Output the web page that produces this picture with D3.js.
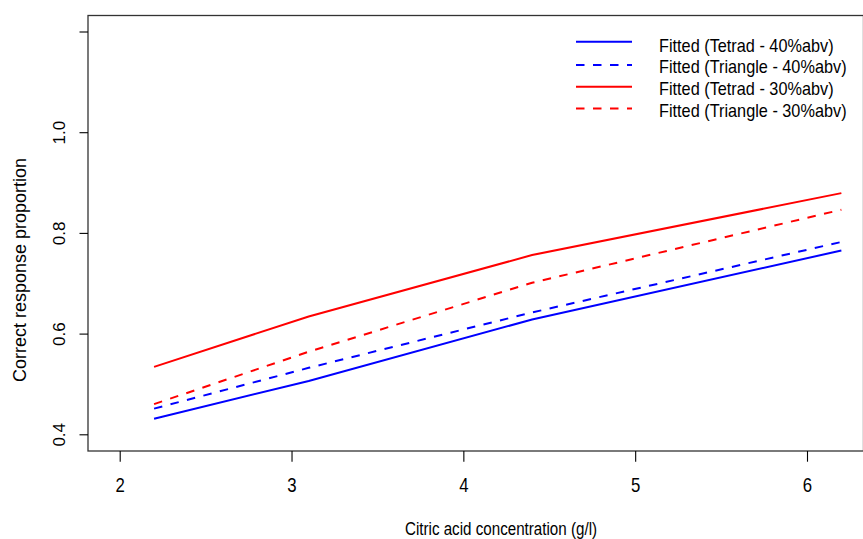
<html>
<head>
  <script src="https://cdnjs.cloudflare.com/ajax/libs/d3/7.8.5/d3.min.js"></script>
  <style>
    body { margin: 0; background: #fff; }
    text { font-family: "Liberation Sans", Arial, sans-serif; fill: #000; }
  </style>
</head>
<body>
  <svg id="chart" width="863" height="539"></svg>
  <script>
    // citric acid levels (g/l) and fitted proportions
    const conc = [2.2, 3.1, 4.4, 6.2];
    const tetrad40 = [0.431, 0.506, 0.628, 0.765];
    const triangle40 = [0.451, 0.532, 0.642, 0.782];
    const tetrad30 = [0.534, 0.634, 0.756, 0.879];
    const triangle30 = [0.460, 0.564, 0.701, 0.846];

    const xTicks = [2, 3, 4, 5, 6];
    const yTicks = [0.4, 0.6, 0.8, 1.0, 1.2];
    const yTickLabels = ["0.4", "0.6", "0.8", "1.0", ""];

    const legendLabels = ["Fitted (Tetrad - 40%abv)", "Fitted (Triangle - 40%abv)",
      "Fitted (Tetrad - 30%abv)", "Fitted (Triangle - 30%abv)"];

    const series = [
      { values: tetrad40, color: "#0000ff", dash: null },
      { values: triangle40, color: "#0000ff", dash: "8.5,8.5" },
      { values: tetrad30, color: "#ff0000", dash: null },
      { values: triangle30, color: "#ff0000", dash: "8.5,8.5" }
    ];

    const svg = d3.select("#chart");
    const box = { left: 88, top: 15.5, right: 863.5, bottom: 451 };

    const x = d3.scaleLinear().domain([2, 6]).range([119.7, 807]);
    const y = d3.scaleLinear().domain([0.4, 1.2]).range([434.3, 31.5]);

    // plot box
    svg.append("rect")
      .attr("x", box.left).attr("y", box.top)
      .attr("width", box.right - box.left).attr("height", box.bottom - box.top)
      .attr("fill", "none").attr("stroke", "#333").attr("stroke-width", 1.3);

    // x axis
    const gx = svg.append("g")
      .attr("transform", "translate(0," + box.bottom + ")")
      .call(d3.axisBottom(x).tickValues(xTicks).tickSize(10.7).tickFormat(d3.format("d")));
    gx.select(".domain").remove();
    gx.selectAll("line").attr("stroke", "#000").attr("stroke-width", 1.1);
    gx.selectAll("text")
      .attr("y", 0).attr("dy", 0)
      .attr("transform", "translate(0,40.7) scale(0.84,1)")
      .style("font-size", "20px");

    // y axis
    const gy = svg.append("g")
      .attr("transform", "translate(" + box.left + ",0)")
      .call(d3.axisLeft(y).tickValues(yTicks).tickSize(8.5).tickFormat((d, i) => yTickLabels[i]));
    gy.select(".domain").remove();
    gy.selectAll("line").attr("stroke", "#000").attr("stroke-width", 1.1);
    gy.selectAll("text")
      .attr("x", 0).attr("dy", 0)
      .attr("text-anchor", "middle")
      .attr("transform", "translate(-23,0) rotate(-90)")
      .style("font-size", "17px");

    // axis titles
    svg.append("text")
      .attr("transform", "translate(501,535) scale(0.82,1)")
      .attr("text-anchor", "middle")
      .style("font-size", "18.5px")
      .text("Citric acid concentration (g/l)");

    svg.append("text")
      .attr("transform", "translate(26,270) rotate(-90)")
      .attr("text-anchor", "middle")
      .style("font-size", "18px")
      .text("Correct response proportion");

    // fitted lines
    const line = d3.line()
      .x((d, i) => x(conc[i]))
      .y(d => y(d));

    svg.append("g").selectAll("path")
      .data(series)
      .enter()
      .append("path")
      .attr("d", d => line(d.values))
      .attr("fill", "none")
      .attr("stroke", d => d.color)
      .attr("stroke-width", 2)
      .attr("stroke-dasharray", d => d.dash);

    // legend
    const legendBase = [51.7, 73.4, 95.1, 116.8];
    const lg = svg.append("g").selectAll("g")
      .data(series)
      .enter()
      .append("g");
    lg.append("line")
      .attr("x1", 576).attr("x2", 632)
      .attr("y1", (d, i) => legendBase[i] - (i === 0 ? 10 : 8.4))
      .attr("y2", (d, i) => legendBase[i] - (i === 0 ? 10 : 8.4))
      .attr("stroke", d => d.color)
      .attr("stroke-width", 2)
      .attr("stroke-dasharray", d => d.dash);
    lg.append("text")
      .attr("transform", (d, i) => "translate(659," + legendBase[i] + ") scale(0.92,1)")
      .style("font-size", "17.7px")
      .text((d, i) => legendLabels[i]);
  </script>
</body>
</html>
